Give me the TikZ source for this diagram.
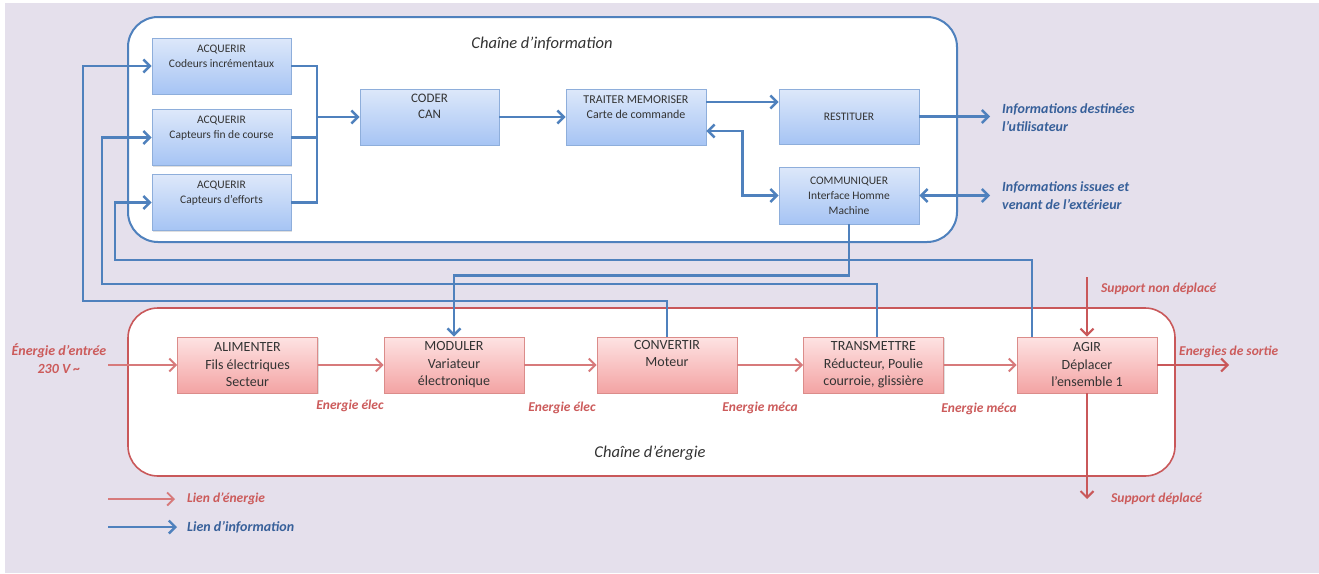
\documentclass[tikz,border=0pt]{standalone}
\usepackage{fontspec}
\setmainfont{Carlito}
\usetikzlibrary{arrows.meta,shadows}
\definecolor{bg}{HTML}{E5E0EC}
\definecolor{infoblue}{HTML}{4F81BD}
\definecolor{btop}{HTML}{DDE8FA}
\definecolor{bbot}{HTML}{A6C4F4}
\definecolor{bborder}{HTML}{8EAEDB}
\definecolor{rtop}{HTML}{FEE3E3}
\definecolor{rbot}{HTML}{F3A3A3}
\definecolor{rborder}{HTML}{DB8C8A}
\definecolor{enred}{HTML}{C9585A}
\definecolor{enline}{HTML}{D77A7B}
\definecolor{labblue}{HTML}{37609A}
\definecolor{labred}{HTML}{CC5B5B}
\definecolor{txt}{HTML}{333333}
\begin{document}
\begin{tikzpicture}[x=1pt,y=-1pt,
  >={Straight Barb[length=6.5pt,width=13pt]},
  bbox/.style={draw=bborder, line width=0.8pt, top color=btop, bottom color=bbot,
    minimum width=139pt, minimum height=56pt, inner sep=0pt, align=center, text=txt,
    font=\fontsize{11.5}{15}\selectfont,
    drop shadow={opacity=0.25,shadow xshift=1.2pt,shadow yshift=-1.2pt}},
  rbox/.style={draw=rborder, line width=0.8pt, top color=rtop, bottom color=rbot,
    minimum width=140pt, minimum height=56pt, inner sep=0pt, align=center, text=txt,
    font=\fontsize{14}{17.5}\selectfont,
    drop shadow={opacity=0.25,shadow xshift=1.2pt,shadow yshift=-1.2pt}},
  info/.style={draw=infoblue, line width=2.4pt},
  ener/.style={draw=enline, line width=1.9pt},
  blab/.style={text=labblue, font=\bfseries\itshape\fontsize{14}{18}\selectfont, align=left, inner sep=0pt},
  rlab/.style={text=labred, font=\bfseries\itshape\fontsize{13.5}{17}\selectfont, align=center, inner sep=0pt},
  title/.style={text=txt, font=\itshape\fontsize{16.5}{20}\selectfont, inner sep=0pt}
]
\useasboundingbox (0,0) rectangle (1319,573);
\fill[white] (0,0) rectangle (1319,573);
\fill[bg] (5,3) rectangle (1319,573);

% frames
\draw[infoblue, line width=2pt, fill=white, rounded corners=30pt] (128,17) rectangle (957,242);
\draw[enred, line width=1.6pt, fill=white, rounded corners=30pt] (128,308) rectangle (1175,476);
\node[title] (tinfo) at (542,44) {Chaîne d’information};
\node[title] (tener) at (650,453) {Chaîne d’énergie};

% information chain boxes
\node[bbox] (acq1) at (221.5,66) {ACQUERIR\\Codeurs incrémentaux\\\strut};
\node[bbox] (acq2) at (221.5,137.5) {ACQUERIR\\Capteurs fin de course\\\strut};
\node[bbox] (acq3) at (221.5,202.5) {ACQUERIR\\Capteurs d’efforts\\\strut};
\node[bbox, font=\fontsize{13}{16}\selectfont] (coder) at (429.5,117) {CODER\\CAN\\\strut};
\node[bbox, minimum width=140pt, font=\fontsize{12}{15.5}\selectfont] (traiter) at (636,117) {TRAITER MEMORISER\\Carte de commande\\\strut};
\node[bbox, minimum width=140pt, minimum height=55pt] (restit) at (849,116.5) {RESTITUER};
\node[bbox, minimum width=140pt, minimum height=57pt] (comm) at (849,195.5) {COMMUNIQUER\\Interface Homme\\Machine};

% energy chain boxes
\node[rbox] (alim) at (247.5,365) {ALIMENTER\\Fils électriques\\Secteur};
\node[rbox] (modul) at (454,365) {MODULER\\Variateur\\électronique};
\node[rbox] (conv) at (667,365) {CONVERTIR\\Moteur\\\strut};
\node[rbox] (trans) at (873.5,365) {TRANSMETTRE\\Réducteur, Poulie\\courroie, glissière};
\node[rbox] (agir) at (1087,365) {AGIR\\Déplacer\\l’ensemble 1};

% information wiring
\coordinate (bus) at (317,117);
\draw[info] (acq1.east) -| (bus) |- (acq3.east);
\draw[info] (acq2.east) -- (acq2.east -| bus);
\draw[info,->] (bus) -- (coder.west);
\draw[info,->] (coder.east) -- (traiter.west);
\draw[info,->] ([yshift=15pt]traiter.east) -- ([yshift=15pt]traiter.east -| restit.west);
\draw[info,<->] ([yshift=-14pt]traiter.east) -- ++(36,0) |- (comm.west);
\coordinate (outA) at (990,116.5);
\coordinate (outB) at (990,195.5);
\draw[info,->] (restit.east) -- (outA);
\draw[info,<->] (comm.east) -- (outB);

% feedback loops
\coordinate (c1) at (83,301);
\coordinate (c2) at (102,284);
\coordinate (c3) at (115,260);
\draw[info,->] (conv.north) |- (c1) |- (acq1.west);
\draw[info,->] ([xshift=3.5pt]trans.north) |- (c2) |- (acq2.west);
\draw[info,->] ([xshift=-55pt]agir.north) |- (c3) |- (acq3.west);
\draw[info,->] (comm.south) -- ++(0,51) -| (modul.north);

% energy wiring
\coordinate (ein) at (108,365);
\coordinate (eout) at (1229,365);
\coordinate (sup1) at (1087,277);
\coordinate (sup2) at (1087,499);
\draw[ener,->] (ein) -- (alim.west);
\draw[ener,->] (alim.east) -- (modul.west);
\draw[ener,->] (modul.east) -- (conv.west);
\draw[ener,->] (conv.east) -- (trans.west);
\draw[ener,->] (trans.east) -- (agir.west);
\draw[enred,line width=2.1pt,->] (agir.east) -- (eout);
\draw[enred,line width=2.1pt,->] (sup1) -- (agir.north);
\draw[enred,line width=2.1pt,->] (agir.south) -- (sup2);

% labels
\node[blab, anchor=west] (l1) at (1002,117.5) {Informations destinées\\l’utilisateur};
\node[blab, anchor=west] (l2) at (1002,195.5) {Informations issues et\\venant de l’extérieur};
\node[rlab, font=\bfseries\itshape\fontsize{14}{17.5}\selectfont] (ein-l) at (59,358.5) {Énergie d’entrée\\230 V \textasciitilde};
\node[rlab] (e1) at (350,406) {Energie élec};
\node[rlab] (e2) at (562,408) {Energie élec};
\node[rlab] (e3) at (760,408) {Energie méca};
\node[rlab] (e4) at (979,409) {Energie méca};
\node[rlab, anchor=west] (s1) at (1101,289) {Support non déplacé};
\node[rlab, anchor=west] (s2) at (1179,352) {Energies de sortie};
\node[rlab, anchor=west] (s3) at (1111,499) {Support déplacé};

% legend
\coordinate (lg1a) at (108,499);
\coordinate (lg1b) at (175,499);
\coordinate (lg2a) at (108,527);
\coordinate (lg2b) at (177,527);
\draw[ener,->] (lg1a) -- (lg1b);
\draw[info,->] (lg2a) -- (lg2b);
\node[rlab, anchor=west] (lg1) at (187,499) {Lien d’énergie};
\node[blab, anchor=west] (lg2) at (187,527) {Lien d’information};
\end{tikzpicture}
\end{document}
